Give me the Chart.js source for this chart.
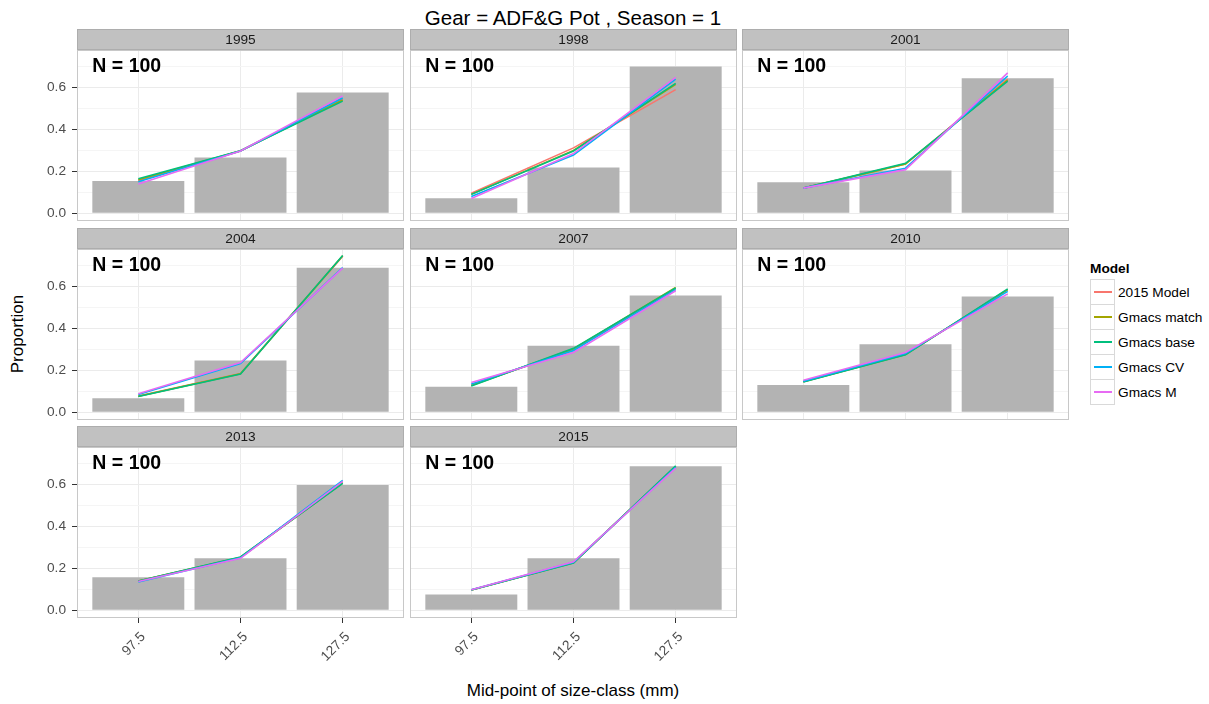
<!DOCTYPE html>
<html>
<head>
<meta charset="utf-8">
<script src="https://cdn.jsdelivr.net/npm/chart.js@4.4.1/dist/chart.umd.min.js"></script>
<style>
body { margin: 0; background: #fff; font-family: "Liberation Sans", Arial, sans-serif; }
#wrap { position: relative; width: 1209px; height: 704px; overflow: hidden; background: #fff; }
canvas { position: absolute; }
.txt { position: absolute; white-space: nowrap; color: #000; transform: translate(-50%, -50%); }
#title { left: 573px; top: 18px; font-size: 20.5px; }
#xtitle { left: 573px; top: 691px; font-size: 17px; }
#ytitle { left: 18px; top: 334px; font-size: 17px; transform: translate(-50%, -50%) rotate(-90deg); }
.leg-title { position: absolute; left: 1090px; top: 261px; font-size: 13.7px; font-weight: bold; color: #000; }
.leg-key { position: absolute; width: 23px; height: 24px; border: 1px solid #d9d9d9; background: #fff; }
.leg-line { position: absolute; left: 3px; width: 18px; height: 2px; top: 11px; }
.leg-label { position: absolute; font-size: 13.7px; color: #000; transform: translateY(-50%); }
</style>
</head>
<body>
<div id="wrap">
  <div class="txt" id="title">Gear = ADF&amp;G Pot , Season = 1</div>
  <div class="txt" id="xtitle">Mid-point of size-class (mm)</div>
  <div class="txt" id="ytitle">Proportion</div>
  <div class="leg-title">Model</div>
</div>
<script>
// facets and categories
const years = ['1995', '1998', '2001', '2004', '2007', '2010', '2013', '2015'];
const sampleSizes = [100, 100, 100, 100, 100, 100, 100, 100];
const sizeClasses = ['97.5', '112.5', '127.5'];
const models = ['2015 Model', 'Gmacs match', 'Gmacs base', 'Gmacs CV', 'Gmacs M'];
const modelColors = ['#F8766D', '#A3A500', '#00BF7D', '#00B0F6', '#E76BF3'];

// observed proportions (bars), one row per year
const observed = [
    [0.154, 0.266, 0.576],
    [0.072, 0.218, 0.700],
    [0.148, 0.204, 0.644],
    [0.067, 0.247, 0.689],
    [0.122, 0.317, 0.557],
    [0.130, 0.325, 0.552],
    [0.157, 0.248, 0.598],
    [0.075, 0.248, 0.687]
];

// predicted proportions (lines), one array per model
const fit2015Model = [
    [0.155, 0.297, 0.545],
    [0.095, 0.312, 0.590],
    [0.120, 0.235, 0.640],
    [0.077, 0.185, 0.745],
    [0.130, 0.298, 0.590],
    [0.146, 0.276, 0.585],
    [0.140, 0.252, 0.610],
    [0.097, 0.227, 0.686]
];
const fitGmacsMatch = [
    [0.160, 0.298, 0.540],
    [0.090, 0.300, 0.615],
    [0.120, 0.235, 0.635],
    [0.076, 0.183, 0.747],
    [0.128, 0.302, 0.595],
    [0.146, 0.275, 0.585],
    [0.140, 0.253, 0.607],
    [0.097, 0.226, 0.687]
];
const fitGmacsBase = [
    [0.165, 0.298, 0.535],
    [0.090, 0.297, 0.620],
    [0.120, 0.238, 0.630],
    [0.075, 0.182, 0.748],
    [0.125, 0.305, 0.593],
    [0.145, 0.274, 0.589],
    [0.140, 0.254, 0.606],
    [0.097, 0.225, 0.689]
];
const fitGmacsCV = [
    [0.150, 0.297, 0.550],
    [0.080, 0.278, 0.640],
    [0.120, 0.215, 0.655],
    [0.085, 0.232, 0.690],
    [0.135, 0.295, 0.585],
    [0.148, 0.280, 0.577],
    [0.135, 0.250, 0.620],
    [0.098, 0.229, 0.682]
];
const fitGmacsM = [
    [0.140, 0.297, 0.560],
    [0.070, 0.285, 0.648],
    [0.120, 0.208, 0.670],
    [0.088, 0.237, 0.688],
    [0.142, 0.285, 0.580],
    [0.153, 0.285, 0.565],
    [0.137, 0.248, 0.615],
    [0.098, 0.231, 0.678]
];
const fits = [fit2015Model, fitGmacsMatch, fitGmacsBase, fitGmacsCV, fitGmacsM];

// y axis
const yGrid = [0, 0.1, 0.2, 0.3, 0.4, 0.5, 0.6, 0.7];
const yMajor = [0, 0.2, 0.4, 0.6];
const yMin = -0.037, yMax = 0.779;

// layout of the facet grid
const FONT = '"Liberation Sans", Arial, sans-serif';
const colLeft = [77, 410, 742];
const rowTop = [50, 249, 447];
const PW = 327, PH = 171, STRIP = 21, AX = 60, RP = 10;
const nLabelX = -0.45, nLabelY = 0.70;

const wrap = document.getElementById('wrap');

const facetPlugin = {
    id: 'facet',
    beforeDraw(chart, args, opts) {
        const { ctx, chartArea: a } = chart;
        ctx.save();
        ctx.fillStyle = '#fff';
        ctx.fillRect(a.left, a.top, a.width, a.height);
        ctx.fillStyle = '#c1c1c1';
        ctx.fillRect(a.left, a.top - STRIP, a.width, STRIP);
        ctx.strokeStyle = '#adadad';
        ctx.lineWidth = 1;
        ctx.strokeRect(a.left + 0.5, a.top - STRIP + 0.5, a.width - 1, STRIP - 1);
        ctx.fillStyle = '#1a1a1a';
        ctx.font = '13.7px ' + FONT;
        ctx.textAlign = 'center';
        ctx.textBaseline = 'middle';
        ctx.fillText(opts.strip, (a.left + a.right) / 2, a.top - STRIP / 2 + 1);
        ctx.restore();
    },
    afterDatasetsDraw(chart, args, opts) {
        const { ctx, scales } = chart;
        ctx.save();
        ctx.fillStyle = '#000';
        ctx.font = 'bold 19.5px ' + FONT;
        ctx.textAlign = 'left';
        ctx.textBaseline = 'middle';
        ctx.fillText(opts.label, scales.x.getPixelForValue(nLabelX), scales.y.getPixelForValue(nLabelY));
        ctx.restore();
    },
    afterDraw(chart) {
        const { ctx, chartArea: a } = chart;
        ctx.save();
        ctx.strokeStyle = '#c8c8c8';
        ctx.lineWidth = 1;
        ctx.strokeRect(a.left + 0.5, a.top + 0.5, a.width - 1, a.height - 1);
        ctx.restore();
    }
};

function drawPanel(i) {
    const col = i % 3;
    const row = Math.floor(i / 3);
    const bottom = row === 2;
    const BX = bottom ? 50 : 0;
    const PB = bottom ? 0 : 20;

    const canvas = document.createElement('canvas');
    canvas.width = AX + PW + RP;
    canvas.height = STRIP + PH + BX + PB;
    canvas.style.left = (colLeft[col] - AX) + 'px';
    canvas.style.top = (rowTop[row] - STRIP) + 'px';
    wrap.appendChild(canvas);

    const datasets = [{
        type: 'bar',
        label: 'Observed',
        data: observed[i].map((v, k) => ({ x: k, y: v })),
        backgroundColor: '#b3b3b3',
        barPercentage: 0.9,
        categoryPercentage: 1,
        order: 10
    }];
    fits.forEach((f, m) => {
        datasets.push({
            type: 'line',
            label: models[m],
            data: f[i].map((v, k) => ({ x: k, y: v })),
            borderColor: modelColors[m],
            borderWidth: 1.6,
            pointRadius: 0,
            fill: false,
            tension: 0,
            order: 5 - m
        });
    });

    new Chart(canvas.getContext('2d'), {
        type: 'line',
        data: { datasets: datasets },
        options: {
            responsive: false,
            animation: false,
            events: [],
            layout: { padding: { top: STRIP, right: RP, bottom: PB, left: 0 } },
            plugins: {
                legend: { display: false },
                tooltip: { enabled: false },
                facet: { strip: years[i], label: 'N = ' + sampleSizes[i] }
            },
            scales: {
                x: {
                    type: 'linear',
                    min: -0.6,
                    max: 2.6,
                    offset: false,
                    afterBuildTicks: (s) => { s.ticks = sizeClasses.map((c, k) => ({ value: k })); },
                    afterFit: (s) => { s.height = BX; },
                    border: { display: false },
                    grid: {
                        offset: false,
                        color: '#ebebeb',
                        lineWidth: 1,
                        drawTicks: bottom,
                        tickLength: 5,
                        tickColor: '#333333'
                    },
                    ticks: {
                        display: bottom,
                        autoSkip: false,
                        minRotation: 45,
                        maxRotation: 45,
                        padding: 6,
                        labelOffset: 5,
                        color: '#4d4d4d',
                        font: { family: FONT, size: 13.7 },
                        callback: (v) => sizeClasses[v]
                    }
                },
                y: {
                    type: 'linear',
                    min: yMin,
                    max: yMax,
                    afterBuildTicks: (s) => { s.ticks = yGrid.map((v) => ({ value: v })); },
                    afterFit: (s) => { s.width = AX; },
                    border: { display: false },
                    grid: {
                        color: (c) => yMajor.includes(c.tick.value) ? '#ebebeb' : '#f5f5f5',
                        lineWidth: 1,
                        drawTicks: col === 0,
                        tickLength: 5,
                        tickColor: (c) => (col === 0 && yMajor.includes(c.tick.value)) ? '#333333' : 'rgba(0,0,0,0)'
                    },
                    ticks: {
                        display: col === 0,
                        padding: 6,
                        color: '#4d4d4d',
                        font: { family: FONT, size: 13.7 },
                        callback: (v) => yMajor.includes(v) ? v.toFixed(1) : ''
                    }
                }
            }
        },
        plugins: [facetPlugin]
    });
}

function drawLegend() {
    models.forEach((m, k) => {
        const top = 279 + k * 25;
        const key = document.createElement('div');
        key.className = 'leg-key';
        key.style.left = '1090px';
        key.style.top = top + 'px';
        const line = document.createElement('div');
        line.className = 'leg-line';
        line.style.background = modelColors[k];
        key.appendChild(line);
        wrap.appendChild(key);
        const label = document.createElement('div');
        label.className = 'leg-label';
        label.style.left = '1118px';
        label.style.top = (top + 12.5) + 'px';
        label.textContent = m;
        wrap.appendChild(label);
    });
}

document.addEventListener('DOMContentLoaded', function () {
    years.forEach((y, i) => drawPanel(i));
    drawLegend();
});
</script>
</body>
</html>
